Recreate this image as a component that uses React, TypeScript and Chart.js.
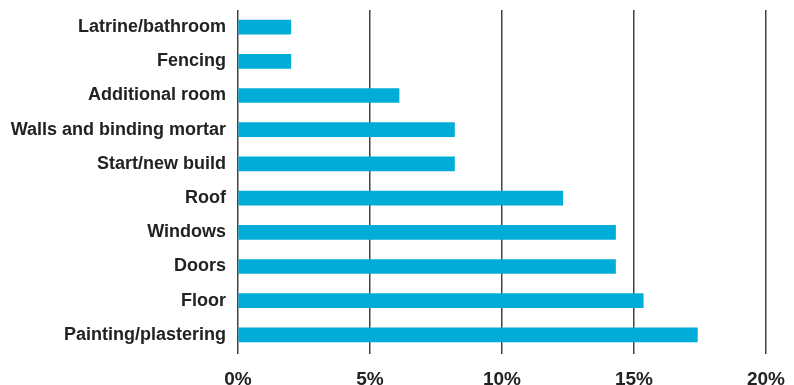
import React, { useEffect, useRef } from "react";
import { Chart, registerables } from "chart.js";

Chart.register(...registerables);

const categories = [
  "Latrine/bathroom",
  "Fencing",
  "Additional room",
  "Walls and binding mortar",
  "Start/new build",
  "Roof",
  "Windows",
  "Doors",
  "Floor",
  "Painting/plastering",
];
const shares = [2.0, 2.0, 6.1, 8.2, 8.2, 12.3, 14.3, 14.3, 15.35, 17.4];
const xTicks = [0, 5, 10, 15, 20];

export default function App() {
  const ref = useRef<HTMLCanvasElement | null>(null);
  useEffect(() => {
    if (!ref.current) return;
    const chart = new Chart(ref.current, {
      type: "bar",
      data: {
        labels: categories,
        datasets: [
          {
            data: shares,
            backgroundColor: "#00ADD8",
            borderWidth: 0,
            barThickness: 14,
          },
        ],
      },
      options: {
        indexAxis: "y",
        animation: false,
        responsive: false,
        maintainAspectRatio: false,
        layout: { padding: { top: 10, right: 28, left: 0, bottom: 0 } },
        plugins: { legend: { display: false }, tooltip: { enabled: false } },
        scales: {
          x: {
            min: xTicks[0],
            max: xTicks[xTicks.length - 1],
            afterBuildTicks: (scale: any) => {
              scale.ticks = xTicks.map((v) => ({ value: v }));
            },
            afterFit: (scale: any) => {
              scale.height = 33;
              scale.paddingLeft = 0;
              scale.paddingRight = 0;
            },
            grid: {
              display: true,
              color: "#444",
              lineWidth: 1.5,
              tickLength: 2,
              drawTicks: true,
            },
            border: { display: false },
            ticks: {
              callback: (v: any) => v + "%",
              font: { family: "Arial", weight: "bold", size: 19 },
              color: "#222",
              padding: 14,
            },
          },
          y: {
            afterFit: (scale: any) => {
              scale.width = 238;
              scale.paddingTop = 0;
              scale.paddingBottom = 0;
            },
            grid: { display: false, drawTicks: false },
            border: { display: false },
            ticks: {
              font: { family: "Arial", weight: "bold", size: 18 },
              color: "#222",
              padding: 12,
            },
          },
        },
      },
    });
    return () => chart.destroy();
  }, []);
  return (
    <div style={{ position: "fixed", left: 0, top: 0, width: 794, height: 385, background: "#fff" }}>
      <canvas ref={ref} width={794} height={385} style={{ width: 794, height: 385 }} />
    </div>
  );
}
